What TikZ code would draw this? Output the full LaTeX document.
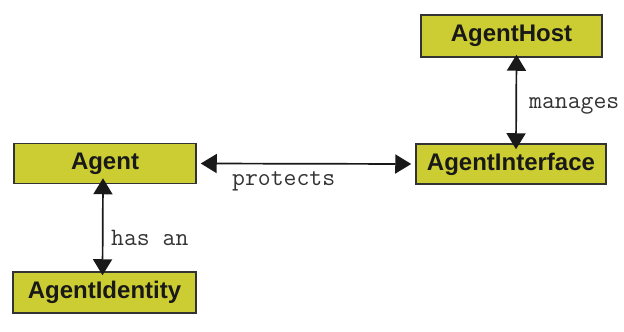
\documentclass[tikz,border=0pt]{standalone}
\usepackage{fontspec}
\setsansfont{Liberation Sans}
\usetikzlibrary{arrows.meta}
\definecolor{boxfill}{HTML}{CCCC33}
\definecolor{boxline}{HTML}{333333}
\tikzset{
  classbox/.style={draw=boxline, line width=1.5pt, fill=boxfill, inner sep=0pt,
    font=\sffamily\bfseries\fontsize{24}{24}\selectfont, text=black!90},
  assoc/.style={line width=1.7pt, black!90,
    {Triangle[width=19pt,length=16pt]}-{Triangle[width=19pt,length=16pt]}},
  rolelabel/.style={font=\ttfamily\fontsize{25}{25}\selectfont, text=black!80, inner sep=0pt}
}
\begin{document}
\begin{tikzpicture}[x=1pt,y=-1pt]
  \useasboundingbox (0,0) rectangle (624,332);
  \node[classbox, minimum width=182pt, minimum height=40pt] (agent) at (105,163.5) {Agent};
  \node[classbox, minimum width=183pt, minimum height=41pt] (ident) at (104.5,292.5) {AgentIdentity};
  \node[classbox, minimum width=181pt, minimum height=42pt] (host) at (511.5,36) {AgentHost};
  \node[classbox, minimum width=190pt, minimum height=40pt] (iface) at (511,164) {AgentInterface};

  \draw[assoc] ([xshift=-2pt,yshift=6pt]agent.south) -- ([xshift=-2pt,yshift=-4pt]ident.north);
  \draw[assoc] ([xshift=4pt]agent.east) -- ([xshift=-4pt]iface.west);
  \draw[assoc] ([xshift=5pt,yshift=3pt]host.south) -- ([xshift=5pt,yshift=-6pt]iface.north);

  \node[rolelabel, anchor=west] (lhas) at (111,238) {has an};
  \node[rolelabel, anchor=west] (lprot) at (232,181) {protects};
  \node[rolelabel, anchor=west] (lman) at (529,106) {manages};
\end{tikzpicture}
\end{document}
